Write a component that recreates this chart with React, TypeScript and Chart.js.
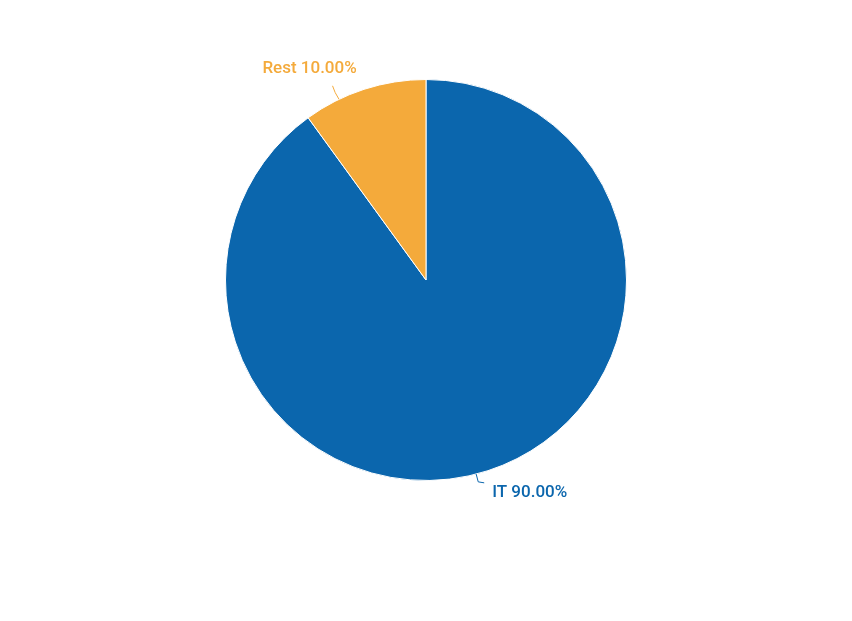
import React, { useEffect, useRef } from 'react';
import { Chart, registerables } from 'chart.js';

Chart.register(...registerables);

// 데이터
const labels = ['IT', 'Rest'];
const shares = [90, 10];
const colors = ['#0b66ad', '#f4aa3b'];

// label leader tweaks (degrees / px)
const leaderNudge = [3.5, -7.7];
const leaderLen = [8, 15];

const pieLabels = {
  id: 'pieLabels',
  afterDatasetsDraw(chart: any) {
    const { ctx } = chart;
    const meta = chart.getDatasetMeta(0);
    const total = shares.reduce((a, b) => a + b, 0);
    meta.data.forEach((arc: any, i: number) => {
      const { x, y, startAngle, endAngle, outerRadius } = arc.getProps(
        ['x', 'y', 'startAngle', 'endAngle', 'outerRadius'], true);
      const mid = (startAngle + endAngle) / 2 + (leaderNudge[i] * Math.PI) / 180;
      const dx = Math.cos(mid);
      const dy = Math.sin(mid);
      const p0 = { x: x + outerRadius * dx, y: y + outerRadius * dy };
      const p1 = { x: x + (outerRadius + leaderLen[i]) * dx, y: y + (outerRadius + leaderLen[i]) * dy };
      const text = `${labels[i]} ${((shares[i] / total) * 100).toFixed(2)}%`;

      ctx.save();
      ctx.strokeStyle = colors[i];
      ctx.fillStyle = colors[i];
      ctx.lineWidth = 1;
      ctx.font = '500 17px Roboto';
      ctx.textBaseline = 'middle';
      ctx.beginPath();
      ctx.moveTo(p0.x, p0.y);
      if (dy > 0) {
        ctx.lineTo(p1.x, p1.y);
        ctx.lineTo(p1.x + 6, p1.y + 1);
        ctx.stroke();
        ctx.textAlign = 'left';
        ctx.fillText(text, p1.x + 14, p1.y + 11);
      } else {
        ctx.quadraticCurveTo(p1.x + 2, (p0.y + p1.y) / 2, p1.x, p1.y);
        ctx.stroke();
        ctx.textAlign = 'center';
        ctx.fillText(text, p1.x - 23, p1.y - 17);
      }
      ctx.restore();
    });
  },
};

export default function App() {
  const canvasRef = useRef<HTMLCanvasElement>(null);

  useEffect(() => {
    document.body.style.margin = '0';
    if (!canvasRef.current) return;
    const chart = new Chart(canvasRef.current, {
      type: 'pie',
      data: {
        labels,
        datasets: [{
          data: shares,
          backgroundColor: colors,
          borderColor: '#ffffff',
          borderWidth: 1,
        }],
      },
      options: {
        responsive: false,
        animation: false,
        layout: { padding: { top: 79, bottom: 140, left: 225, right: 225 } },
        plugins: {
          legend: { display: false },
          tooltip: { enabled: false },
        },
      },
      plugins: [pieLabels],
    });
    return () => chart.destroy();
  }, []);

  return (
    <div style={{ width: 852, height: 621, background: '#ffffff' }}>
      <canvas ref={canvasRef} width={852} height={621} />
    </div>
  );
}
